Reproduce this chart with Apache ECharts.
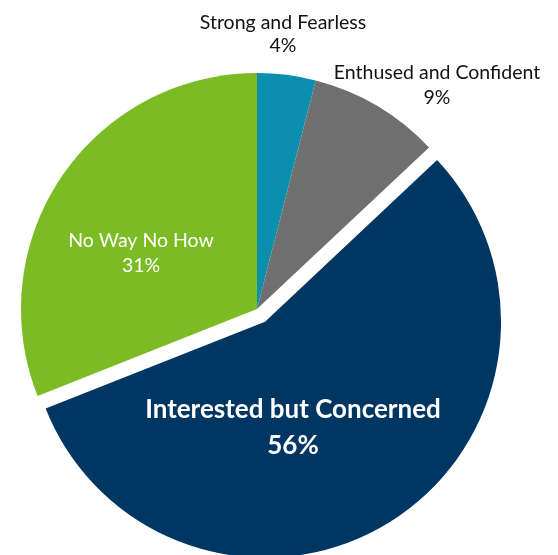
<!DOCTYPE html>
<html>
<head>
<meta charset="utf-8">
<script src="https://cdn.jsdelivr.net/npm/echarts@6/dist/echarts.min.js"></script>
<style>
  html, body { margin: 0; padding: 0; background: #ffffff; }
  #chart { width: 558px; height: 555px; }
</style>
</head>
<body>
<div id="chart"></div>
<script>
// Segments, clockwise from 12 o'clock
const categories = ['Strong and Fearless', 'Enthused and Confident', 'Interested but Concerned', 'No Way No How'];
const shares = [4, 9, 56, 31];
const colors = ['#0b8fae', '#6f6f6f', '#003662', '#7bbc24'];

// Pie geometry
const CX = 257, CY = 309, R = 236, PULL = 15;
const pulledIndex = 2;

// Label anchors (px) and styles per segment
const labelPos = [[283, 34], [437, 85], [293, 428], [141, 253]];
const labelStyle = [
  { color: '#111111', fontSize: 19.5, fontWeight: 'normal', lineHeight: 23 },
  { color: '#111111', fontSize: 19.5, fontWeight: 'normal', lineHeight: 25 },
  { color: '#ffffff', fontSize: 26, fontWeight: 'bold', lineHeight: 36 },
  { color: '#ffffff', fontSize: 19.5, fontWeight: 'normal', lineHeight: 25 }
];

// Direction of the pulled slice's bisector
const total = shares.reduce((a, b) => a + b, 0);
const before = shares.slice(0, pulledIndex).reduce((a, b) => a + b, 0);
const midAng = (before + shares[pulledIndex] / 2) / total * 2 * Math.PI;
const pulledCenter = [CX + PULL * Math.sin(midAng), CY - PULL * Math.cos(midAng)];

const chart = echarts.init(document.getElementById('chart'), null, { renderer: 'canvas' });

// Two stacked pies from the same values: the base pie draws every slice
// except the pulled one, the second pie draws only the pulled slice,
// centred a little further out along its bisector.
function pieSeries(center, visible) {
  return {
    type: 'pie',
    center: center,
    radius: R,
    startAngle: 90,
    clockwise: true,
    silent: true,
    avoidLabelOverlap: false,
    emphasis: { disabled: true },
    label: {
      fontFamily: 'Lato',
      formatter: p => p.name + '\n' + p.value + '%'
    },
    labelLine: { show: false },
    labelLayout: p => ({
      x: labelPos[p.dataIndex][0],
      y: labelPos[p.dataIndex][1],
      align: 'center',
      verticalAlign: 'middle'
    }),
    data: categories.map((name, i) => ({
      name: name,
      value: shares[i],
      itemStyle: { color: visible(i) ? colors[i] : 'rgba(0,0,0,0)' },
      label: Object.assign({ show: visible(i), position: 'inside' }, labelStyle[i])
    }))
  };
}

chart.setOption({
  animation: false,
  series: [
    pieSeries([CX, CY], i => i !== pulledIndex),
    pieSeries(pulledCenter, i => i === pulledIndex)
  ]
});
</script>
</body>
</html>
